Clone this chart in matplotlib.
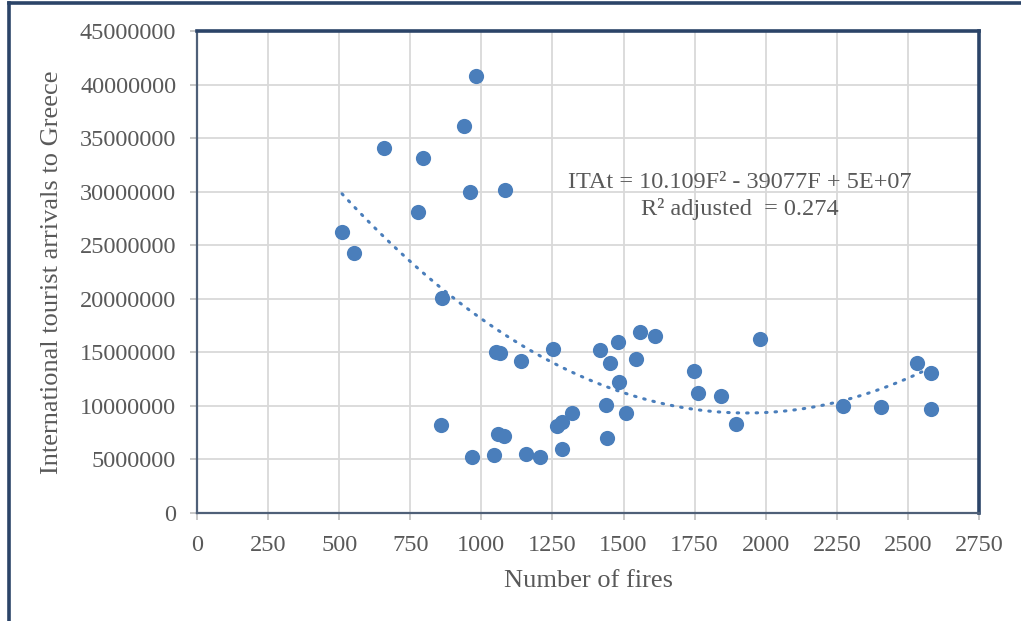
import matplotlib
matplotlib.use("Agg")
import matplotlib.pyplot as plt
import numpy as np

plt.rcParams["font.family"] = ["Liberation Serif", "DejaVu Serif"]

# number of fires per year
fires = [510, 552, 657, 794, 777, 862, 939, 961, 981, 1082,
         1051, 1065, 1139, 1252, 1417, 1480, 1558, 1611, 1452, 1543,
         1484, 1438, 1508, 1442, 858, 1058, 1080, 967, 1044, 1157,
         1206, 1283, 1266, 1283, 1319, 1748, 1762, 1842, 1895, 1980,
         2271, 2405, 2532, 2581, 2581]
# international tourist arrivals (millions)
arrivals_m = [26.2, 24.3, 34.1, 33.1, 28.1, 20.1, 36.1, 30.0, 40.8, 30.2,
              15.0, 14.9, 14.2, 15.3, 15.2, 16.0, 16.9, 16.5, 14.0, 14.4,
              12.2, 10.1, 9.3, 7.0, 8.2, 7.4, 7.2, 5.2, 5.4, 5.5,
              5.2, 6.0, 8.1, 8.5, 9.3, 13.3, 11.2, 10.96, 8.3, 16.2,
              10.0, 9.9, 14.0, 13.1, 9.7]
arrivals = np.array(arrivals_m) * 1e6

# quadratic trendline coefficients as shown on the chart (constant)
trend_coef = [10.109, -39077, 4.71e7]

x_ticks = np.arange(0, 2751, 250)
y_ticks = np.arange(0, 45000001, 5000000)

BLUE = "#4A7EBB"
NAVY = "#2B4468"
GREY_TXT = "#595959"

fig = plt.figure(figsize=(10.21, 6.21), dpi=100)
ax = fig.add_axes([197 / 1021, 1 - 513 / 621, (979 - 197) / 1021, (513 - 31) / 621])

ax.set_xlim(0, 2750)
ax.set_ylim(0, 45000000)
ax.set_xticks(x_ticks)
ax.set_yticks(y_ticks)
ax.set_yticklabels([str(int(v)) for v in y_ticks])
ax.grid(True, color="#D9D9D9", lw=1.3)
ax.set_axisbelow(True)
ax.tick_params(axis="both", labelsize=17.5, colors="#BFBFBF", labelcolor=GREY_TXT,
               length=5, width=1.2)
ax.tick_params(axis="x", pad=11)
ax.tick_params(axis="y", pad=10)

for side in ["top", "right"]:
    ax.spines[side].set_color(NAVY)
    ax.spines[side].set_linewidth(2.6)
for side in ["left", "bottom"]:
    ax.spines[side].set_color("#4F6078")
    ax.spines[side].set_linewidth(1.6)

ax.scatter(fires, arrivals, s=120, color=BLUE, zorder=3, linewidths=0)

xt = np.linspace(min(fires), max(fires), 200)
ax.plot(xt, np.polyval(trend_coef, xt), color=BLUE, lw=2.2,
        linestyle=(0, (0.5, 2.6)), dash_capstyle="round", zorder=2)

ax.text(1909, 30900000, "ITAt = 10.109F² - 39077F + 5E+07", fontsize=17.5,
        color=GREY_TXT, ha="center", va="center")
ax.text(1909, 28400000, "R² adjusted  = 0.274", fontsize=17.5,
        color=GREY_TXT, ha="center", va="center")

ax.set_xlabel("Number of fires", fontsize=19, color=GREY_TXT, labelpad=10)
ax.set_ylabel("International tourist arrivals to Greece", fontsize=19,
              color=GREY_TXT, labelpad=12)

# outer frame of the figure box
fig.add_artist(plt.Line2D([9 / 1021, 1.0], [1 - 3 / 621, 1 - 3 / 621], color=NAVY, lw=2.6))
fig.add_artist(plt.Line2D([9 / 1021, 9 / 1021], [0, 1 - 3 / 621], color=NAVY, lw=2.6))

fig.savefig("out.png", dpi=100)
